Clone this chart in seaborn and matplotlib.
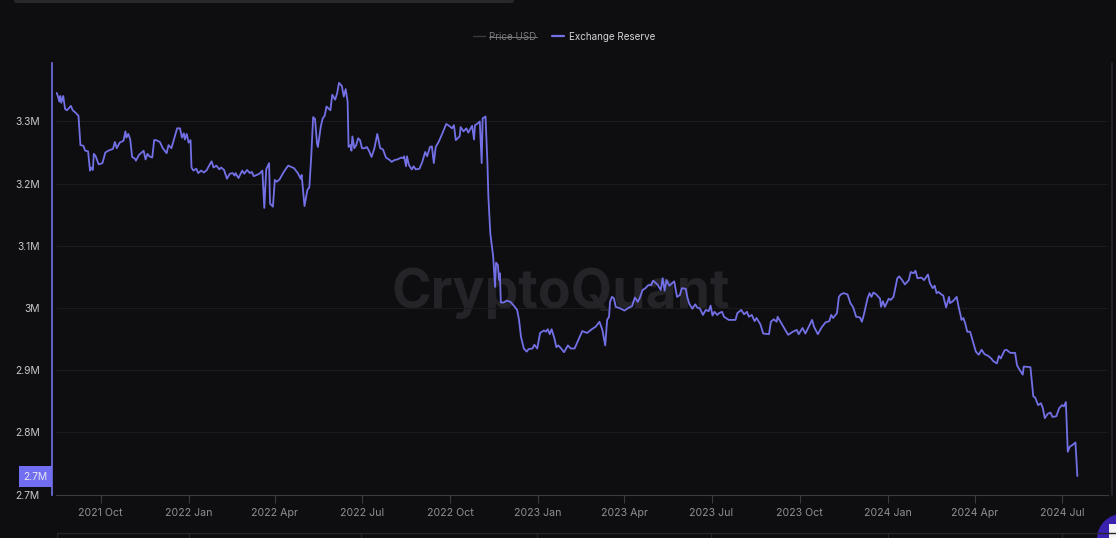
import pandas as pd
import numpy as np
import seaborn as sns
import matplotlib
matplotlib.use("Agg")
import matplotlib.pyplot as plt
from matplotlib.lines import Line2D
from matplotlib.patches import Rectangle, Circle, FancyBboxPatch

# Days relative to 2021-10-01
days = [
-46,-45,-43,-42,-41,-39,-37,-35,-31,-29,-26,-23,-21,-18,-16,-13,-11,-10,-8,-7,-5,-2,2,5,8,13,15,17,20,24,26,27,29,31,33,36,37,40,45,47,49,51,54,56,58,62,65,69,71,74,77,80,83,85,87,88,90,92,94,95,97,100,102,105,108,111,113,116,118,121,124,126,129,132,135,138,140,141,144,148,150,153,156,158,160,163,166,169,171,173,176,177,180,182,184,187,191,194,196,199,202,206,209,210,
213,216,218,220,222,224,226,227,230,232,234,236,240,242,245,247,249,252,254,256,258,259,261,262,263,265,267,269,271,273,276,278,280,283,286,289,292,295,298,302,304,307,310,314,316,317,319,320,322,325,327,329,333,336,339,341,344,346,348,350,353,357,361,364,367,369,371,375,376,379,382,384,388,390,391,394,396,398,399,
402,404,405,407,410,412,413,415,416,417,418,421,424,428,432,435,437,439,442,445,447,451,453,456,459,463,465,467,469,471,474,476,478,481,484,488,491,495,499,503,508,513,517,521,524,527,529,531,532,534,536,538,542,547,551,555,558,561,563,566,569,
572,575,577,580,582,585,587,589,591,594,599,602,605,607,611,613,615,618,621,623,626,629,632,635,637,639,641,644,646,649,651,656,663,665,669,672,675,677,680,683,685,689,692,698,700,703,706,707,710,714,718,723,727,729,733,736,743,745,749,753,757,761,763,765,769,771,773,
776,780,783,786,789,793,795,797,801,803,805,807,810,814,815,817,819,823,825,828,832,834,837,840,844,846,849,851,853,857,860,864,866,869,871,873,875,878,880,881,883,886,887,890,894,896,898,899,901,903,905,908,
911,914,917,920,923,927,930,932,936,938,940,944,946,950,955,957,960,963,964,971,974,976,979,982,984,986,989,992,994,998,1001,1004,1006,1008,1010,1012,1015,1018,1020,
]
# Exchange reserve, thousands
reserve_k = [
3346,3343,3332,3341,3330,3341,3320,3318,3325,3318,3314,3309,3262,3261,3253,3252,3221,3226,3222,3248,3244,3231,3233,3250,3253,3256,3267,3257,3266,3269,3284,3274,3280,3271,3243,3240,3237,3246,3253,3239,3248,3244,3242,3270,3270,3267,3257,3249,3262,3257,3273,3289,3289,3274,3281,3271,3280,3266,3270,3226,3221,3224,3217,3221,3218,3222,3228,3236,3226,3229,3223,3226,3222,3208,3216,3217,3213,3217,3209,3221,3216,3222,3217,3219,3212,3214,3216,3221,3161,3223,3233,3168,3163,3206,3203,3207,3218,3225,3229,3227,3225,3217,3208,3214,
3164,3190,3194,3243,3307,3304,3265,3259,3292,3305,3309,3324,3318,3343,3335,3345,3362,3357,3340,3352,3332,3259,3262,3253,3276,3257,3262,3273,3270,3257,3257,3259,3254,3243,3257,3280,3257,3255,3242,3238,3235,3238,3239,3242,3241,3244,3228,3244,3230,3223,3228,3223,3224,3235,3251,3244,3259,3260,3233,3259,3267,3281,3296,3293,3289,3294,3270,3276,3291,3284,3289,3282,3293,3271,3294,3297,3300,3233,3305,
3308,3233,3179,3120,3083,3034,3073,3069,3045,3056,3009,3009,3012,3010,3003,2997,2981,2954,2935,2930,2934,2935,2941,2935,2960,2964,2962,2966,2958,2966,2951,2937,2940,2935,2929,2940,2935,2935,2949,2963,2960,2966,2970,2978,2965,2940,2981,2986,3010,3018,3016,3002,3000,2996,3000,3003,3017,3010,3016,3029,3032,
3037,3037,3044,3040,3037,3029,3048,3028,3045,3036,3043,3018,3021,3032,3031,3016,3006,2999,3006,3001,2999,2989,2997,2995,3004,2988,2994,2989,2992,2994,2986,2981,2981,2992,2997,2990,2994,2986,2989,2979,2984,2974,2959,2958,2978,2982,2978,2986,2978,2967,2957,2962,2965,2958,2968,2959,2981,2970,2958,2969,2977,2979,2989,2984,2992,3018,3022,
3024,3022,3008,3001,2986,2985,2978,2989,3016,3024,3018,3025,3022,3015,3002,3011,3002,3015,3013,3018,3048,3051,3045,3038,3045,3058,3056,3060,3048,3049,3045,3054,3040,3032,3036,3024,3026,3022,3020,3013,3001,3018,3008,3011,3018,3002,2989,2981,2984,2975,2962,2962,
2946,2930,2925,2933,2926,2923,2919,2915,2911,2923,2919,2932,2933,2928,2928,2908,2900,2893,2906,2905,2858,2856,2844,2847,2839,2823,2830,2832,2825,2826,2839,2844,2842,2849,2769,2777,2780,2784,2730,
]
y_ticks = [2.7, 2.8, 2.9, 3.0, 3.1, 3.2, 3.3]
y_labels = ["2.7M", "2.8M", "2.9M", "3M", "3.1M", "3.2M", "3.3M"]
x_ticks = ["2021-10-01","2022-01-01","2022-04-01","2022-07-01","2022-10-01","2023-01-01",
           "2023-04-01","2023-07-01","2023-10-01","2024-01-01","2024-04-01","2024-07-01"]
x_labels = ["2021 Oct","2022 Jan","2022 Apr","2022 Jul","2022 Oct","2023 Jan",
            "2023 Apr","2023 Jul","2023 Oct","2024 Jan","2024 Apr","2024 Jul"]

start = pd.Timestamp("2021-10-01")
df = pd.DataFrame({"date": start + pd.to_timedelta(days, unit="D"),
                   "reserve": np.array(reserve_k) / 1000})

W, H = 1116, 538
BG = "#0e0e11"
PURPLE = "#7370e6"
sns.set_theme(style="dark")
plt.rcParams["font.family"] = ["Inter", "DejaVu Sans"]
fig = plt.figure(figsize=(W / 100, H / 100), dpi=100, facecolor=BG)
L, R, T, B = 56, 1108, 63, 495
ax = fig.add_axes([L / W, 1 - B / H, (R - L) / W, (B - T) / H], facecolor=BG)
ax.set_zorder(1)

def fx(x): return x / W
def fy(y): return 1 - y / H

# watermark, beneath the axes
fig.text(fx(561), fy(293), "CryptoQuant", color="#242428", fontsize=38.5, fontweight="bold",
         ha="center", va="center", zorder=0.5)
ax.patch.set_alpha(0)

sns.lineplot(data=df, x="date", y="reserve", ax=ax, color=PURPLE, linewidth=1.3,
             label="Exchange Reserve", legend=False, zorder=3)

ax.set_xlim(start + pd.Timedelta(days=-46.5), start + pd.Timedelta(days=1052))
ax.set_ylim(2.6995, 3.394)
ax.set_xticks(pd.to_datetime(x_ticks))
ax.set_xticklabels(x_labels)
ax.set_yticks(y_ticks)
ax.set_yticklabels(y_labels)
ax.set_xlabel("")
ax.set_ylabel("")
ax.grid(axis="y", color="#1b1b1f", linewidth=0.8)
ax.grid(axis="x", visible=False)
ax.tick_params(axis="x", length=5.5, width=0.8, color="#3a3a40", labelcolor="#8f8f96",
               labelsize=7.6, pad=4, bottom=True)
ax.tick_params(axis="y", length=0, labelcolor="#c8c8cc", labelsize=7.4, pad=8.5)
for s in ["top", "right"]:
    ax.spines[s].set_visible(False)
ax.spines["bottom"].set_color("#3a3a40")
ax.spines["bottom"].set_linewidth(0.8)
ax.spines["left"].set_color(PURPLE)
ax.spines["left"].set_linewidth(1.2)
ax.spines["left"].set_position(("outward", 3.2))

# legend
price_handle = Line2D([], [], color="#3a3a3e", linewidth=1)
res_handle = Line2D([], [], color=PURPLE, linewidth=1.6)
leg = fig.legend([price_handle, res_handle], ["Price USD", "Exchange Reserve"], ncol=2,
                 loc="center", bbox_to_anchor=(fx(564), fy(36.5)), frameon=False,
                 fontsize=7.1, handlelength=1.22, handletextpad=0.45, columnspacing=1.6)
txts = leg.get_texts()
txts[0].set_color("#77777c")
txts[1].set_color("#d4d4d8")
fig.canvas.draw()
ext = txts[0].get_window_extent()
fig.add_artist(Line2D([ext.x0 / W, ext.x1 / W], [(ext.y0 + ext.y1) / 2 / H] * 2,
                      transform=fig.transFigure, color="#77777c", linewidth=0.7))

# current value tag
fig.add_artist(Rectangle((fx(19), fy(487)), 33 / W, 21 / H, transform=fig.transFigure,
                         facecolor="#716ef2", edgecolor="none", zorder=2))
fig.text(fx(35.5), fy(476.5), "2.7M", color="#e8e8f4", fontsize=7.4, ha="center", va="center", zorder=3)

# page remnants around the chart
fig.add_artist(FancyBboxPatch((fx(14), fy(3)), 500 / W, 6 / H, transform=fig.transFigure,
                              boxstyle="round,pad=0,rounding_size=0.003",
                              facecolor="#28282c", edgecolor="none"))
fig.add_artist(Line2D([fx(1112)] * 2, [fy(63), fy(496)], transform=fig.transFigure,
                      color="#28282c", linewidth=1.2))
fig.add_artist(Line2D([fx(57), 1], [fy(533)] * 2, transform=fig.transFigure,
                      color="#26262a", linewidth=1))
for px in [57, 189, 361, 537, 711, 888, 1062]:
    fig.add_artist(Line2D([fx(px)] * 2, [fy(533), 0], transform=fig.transFigure,
                          color="#26262a", linewidth=0.8))
fig.add_artist(Circle((1122, H - 539), 25, transform=None, facecolor="#3a22ae", edgecolor="none"))
fig.add_artist(Rectangle((fx(1109), 0), 7 / W, 14 / H, transform=fig.transFigure,
                         facecolor="#f4f4f4", edgecolor="none"))

fig.savefig("out.png", dpi=100, facecolor=BG)
